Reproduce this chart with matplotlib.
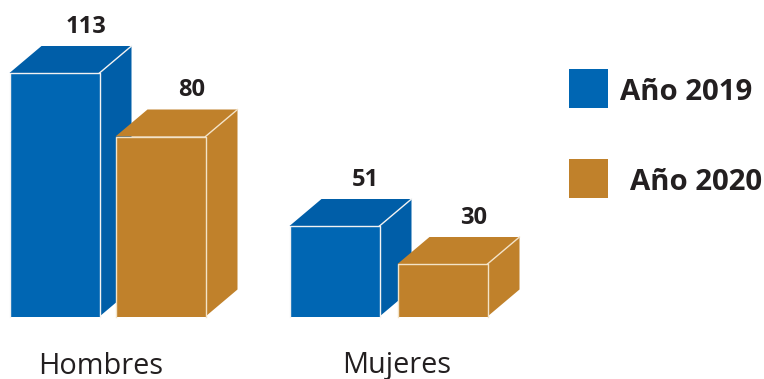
import matplotlib
matplotlib.use('Agg')
import matplotlib.pyplot as plt
from matplotlib.patches import Polygon, Rectangle

categories = ['Hombres', 'Mujeres']
series_names = ['Año 2019', 'Año 2020']
values_2019 = [113, 51]
values_2020 = [80, 30]
# the boxes in the picture are not to scale with their labels, so heights are read separately
heights_2019 = [243.5, 90.5]
heights_2020 = [180, 52.5]

BLUE = '#0066b3'
BLUE_SIDE = '#005ea8'
BROWN = '#c0812b'
TEXT = '#231f20'
BASE = 316.5

plt.rcParams['font.family'] = ['Open Sans', 'DejaVu Sans']
fig = plt.figure(figsize=(7.64, 3.79), dpi=100)
ax = fig.add_axes([0, 0, 1, 1])
ax.set_xlim(0, 764)
ax.set_ylim(BASE - 379, BASE)
ax.axis('off')


def box(x, h, w, front, side, edge, label):
    dx, dy = 32, 27
    ax.add_patch(Polygon([(x + w, 0), (x + w + dx, dy), (x + w + dx, h + dy), (x + w, h)],
                         fc=side, ec='none', zorder=2))
    ax.add_patch(Polygon([(x, h), (x + dx, h + dy), (x + w + dx, h + dy), (x + w, h)],
                         fc=side, ec='none', zorder=2))
    ax.add_patch(Rectangle((x, 0), w, h, fc=front, ec='none', zorder=2))
    ax.plot([x, x, x + w, x + w], [0, h, h, 0], color=edge, lw=1, zorder=3)
    ax.plot([x + w, x + w + dx], [h, h + dy], color=edge, lw=1, zorder=3)
    ax.text(x + w / 2 + 31, h + dy + 19, str(label), ha='center', va='center', fontsize=17,
            fontweight='bold', color=TEXT, zorder=4)


x_2019 = [9.5, 289.5]
x_2020 = [115.5, 397.5]
for i in range(len(categories)):
    box(x_2019[i], heights_2019[i], 90, BLUE, BLUE_SIDE, '#f2f2f2', values_2019[i])
    box(x_2020[i], heights_2020[i], 90, BROWN, BROWN, '#f3e3c8', values_2020[i])

for x, name in zip([101, 397], categories):
    ax.text(x, BASE - 366, name, ha='center', va='center', fontsize=20.8, color=TEXT)

ax.add_patch(Rectangle((569, BASE - 108), 39, 39, fc=BLUE, ec='none'))
ax.add_patch(Rectangle((569, BASE - 198), 39, 39, fc=BROWN, ec='none'))
ax.text(620, BASE - 93, series_names[0], ha='left', va='center', fontsize=21.2,
        fontweight='bold', color=TEXT)
ax.text(630, BASE - 183, series_names[1], ha='left', va='center', fontsize=21.2,
        fontweight='bold', color=TEXT)

fig.savefig('out.png', dpi=100)
